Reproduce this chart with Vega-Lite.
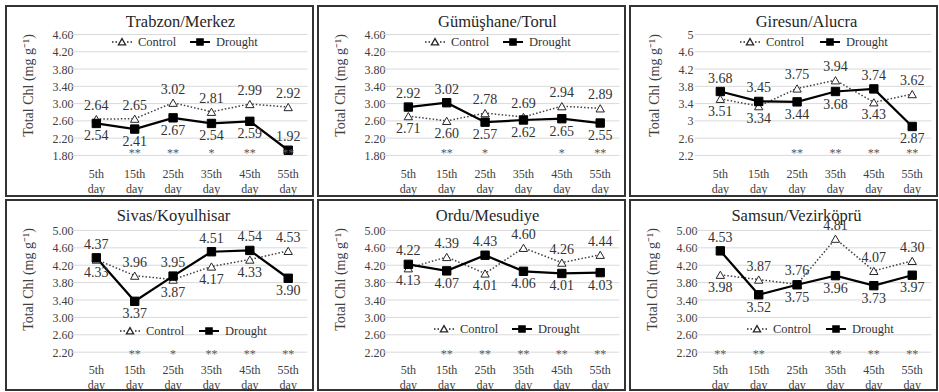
{
"$schema": "https://vega.github.io/schema/vega-lite/v6.json",
"padding": {"left": 5, "top": 5, "right": 0, "bottom": 0},
"background": "white",
"datasets": {
"vals": [
{"site":"Trabzon/Merkez","day":"5th day","series":"Control","value":2.64},
{"site":"Trabzon/Merkez","day":"15th day","series":"Control","value":2.65},
{"site":"Trabzon/Merkez","day":"25th day","series":"Control","value":3.02},
{"site":"Trabzon/Merkez","day":"35th day","series":"Control","value":2.81},
{"site":"Trabzon/Merkez","day":"45th day","series":"Control","value":2.99},
{"site":"Trabzon/Merkez","day":"55th day","series":"Control","value":2.92},
{"site":"Trabzon/Merkez","day":"5th day","series":"Drought","value":2.54},
{"site":"Trabzon/Merkez","day":"15th day","series":"Drought","value":2.41},
{"site":"Trabzon/Merkez","day":"25th day","series":"Drought","value":2.67},
{"site":"Trabzon/Merkez","day":"35th day","series":"Drought","value":2.54},
{"site":"Trabzon/Merkez","day":"45th day","series":"Drought","value":2.59},
{"site":"Trabzon/Merkez","day":"55th day","series":"Drought","value":1.92},
{"site":"Gümüşhane/Torul","day":"5th day","series":"Control","value":2.71},
{"site":"Gümüşhane/Torul","day":"15th day","series":"Control","value":2.60},
{"site":"Gümüşhane/Torul","day":"25th day","series":"Control","value":2.78},
{"site":"Gümüşhane/Torul","day":"35th day","series":"Control","value":2.69},
{"site":"Gümüşhane/Torul","day":"45th day","series":"Control","value":2.94},
{"site":"Gümüşhane/Torul","day":"55th day","series":"Control","value":2.89},
{"site":"Gümüşhane/Torul","day":"5th day","series":"Drought","value":2.92},
{"site":"Gümüşhane/Torul","day":"15th day","series":"Drought","value":3.02},
{"site":"Gümüşhane/Torul","day":"25th day","series":"Drought","value":2.57},
{"site":"Gümüşhane/Torul","day":"35th day","series":"Drought","value":2.62},
{"site":"Gümüşhane/Torul","day":"45th day","series":"Drought","value":2.65},
{"site":"Gümüşhane/Torul","day":"55th day","series":"Drought","value":2.55},
{"site":"Giresun/Alucra","day":"5th day","series":"Control","value":3.51},
{"site":"Giresun/Alucra","day":"15th day","series":"Control","value":3.34},
{"site":"Giresun/Alucra","day":"25th day","series":"Control","value":3.75},
{"site":"Giresun/Alucra","day":"35th day","series":"Control","value":3.94},
{"site":"Giresun/Alucra","day":"45th day","series":"Control","value":3.43},
{"site":"Giresun/Alucra","day":"55th day","series":"Control","value":3.62},
{"site":"Giresun/Alucra","day":"5th day","series":"Drought","value":3.68},
{"site":"Giresun/Alucra","day":"15th day","series":"Drought","value":3.45},
{"site":"Giresun/Alucra","day":"25th day","series":"Drought","value":3.44},
{"site":"Giresun/Alucra","day":"35th day","series":"Drought","value":3.68},
{"site":"Giresun/Alucra","day":"45th day","series":"Drought","value":3.74},
{"site":"Giresun/Alucra","day":"55th day","series":"Drought","value":2.87},
{"site":"Sivas/Koyulhisar","day":"5th day","series":"Control","value":4.33},
{"site":"Sivas/Koyulhisar","day":"15th day","series":"Control","value":3.96},
{"site":"Sivas/Koyulhisar","day":"25th day","series":"Control","value":3.87},
{"site":"Sivas/Koyulhisar","day":"35th day","series":"Control","value":4.17},
{"site":"Sivas/Koyulhisar","day":"45th day","series":"Control","value":4.33},
{"site":"Sivas/Koyulhisar","day":"55th day","series":"Control","value":4.53},
{"site":"Sivas/Koyulhisar","day":"5th day","series":"Drought","value":4.37},
{"site":"Sivas/Koyulhisar","day":"15th day","series":"Drought","value":3.37},
{"site":"Sivas/Koyulhisar","day":"25th day","series":"Drought","value":3.95},
{"site":"Sivas/Koyulhisar","day":"35th day","series":"Drought","value":4.51},
{"site":"Sivas/Koyulhisar","day":"45th day","series":"Drought","value":4.54},
{"site":"Sivas/Koyulhisar","day":"55th day","series":"Drought","value":3.90},
{"site":"Ordu/Mesudiye","day":"5th day","series":"Control","value":4.13},
{"site":"Ordu/Mesudiye","day":"15th day","series":"Control","value":4.39},
{"site":"Ordu/Mesudiye","day":"25th day","series":"Control","value":4.01},
{"site":"Ordu/Mesudiye","day":"35th day","series":"Control","value":4.60},
{"site":"Ordu/Mesudiye","day":"45th day","series":"Control","value":4.26},
{"site":"Ordu/Mesudiye","day":"55th day","series":"Control","value":4.44},
{"site":"Ordu/Mesudiye","day":"5th day","series":"Drought","value":4.22},
{"site":"Ordu/Mesudiye","day":"15th day","series":"Drought","value":4.07},
{"site":"Ordu/Mesudiye","day":"25th day","series":"Drought","value":4.43},
{"site":"Ordu/Mesudiye","day":"35th day","series":"Drought","value":4.06},
{"site":"Ordu/Mesudiye","day":"45th day","series":"Drought","value":4.01},
{"site":"Ordu/Mesudiye","day":"55th day","series":"Drought","value":4.03},
{"site":"Samsun/Vezirköprü","day":"5th day","series":"Control","value":3.98},
{"site":"Samsun/Vezirköprü","day":"15th day","series":"Control","value":3.87},
{"site":"Samsun/Vezirköprü","day":"25th day","series":"Control","value":3.76},
{"site":"Samsun/Vezirköprü","day":"35th day","series":"Control","value":4.81},
{"site":"Samsun/Vezirköprü","day":"45th day","series":"Control","value":4.07},
{"site":"Samsun/Vezirköprü","day":"55th day","series":"Control","value":4.30},
{"site":"Samsun/Vezirköprü","day":"5th day","series":"Drought","value":4.53},
{"site":"Samsun/Vezirköprü","day":"15th day","series":"Drought","value":3.52},
{"site":"Samsun/Vezirköprü","day":"25th day","series":"Drought","value":3.75},
{"site":"Samsun/Vezirköprü","day":"35th day","series":"Drought","value":3.96},
{"site":"Samsun/Vezirköprü","day":"45th day","series":"Drought","value":3.73},
{"site":"Samsun/Vezirköprü","day":"55th day","series":"Drought","value":3.97}
],
"sig": [
{"site":"Trabzon/Merkez","day":"15th day","sig":"**"},
{"site":"Trabzon/Merkez","day":"25th day","sig":"**"},
{"site":"Trabzon/Merkez","day":"35th day","sig":"*"},
{"site":"Trabzon/Merkez","day":"45th day","sig":"**"},
{"site":"Trabzon/Merkez","day":"55th day","sig":"**"},
{"site":"Gümüşhane/Torul","day":"15th day","sig":"**"},
{"site":"Gümüşhane/Torul","day":"25th day","sig":"*"},
{"site":"Gümüşhane/Torul","day":"45th day","sig":"*"},
{"site":"Gümüşhane/Torul","day":"55th day","sig":"**"},
{"site":"Giresun/Alucra","day":"25th day","sig":"**"},
{"site":"Giresun/Alucra","day":"35th day","sig":"**"},
{"site":"Giresun/Alucra","day":"45th day","sig":"**"},
{"site":"Giresun/Alucra","day":"55th day","sig":"**"},
{"site":"Sivas/Koyulhisar","day":"15th day","sig":"**"},
{"site":"Sivas/Koyulhisar","day":"25th day","sig":"*"},
{"site":"Sivas/Koyulhisar","day":"35th day","sig":"**"},
{"site":"Sivas/Koyulhisar","day":"45th day","sig":"**"},
{"site":"Sivas/Koyulhisar","day":"55th day","sig":"**"},
{"site":"Ordu/Mesudiye","day":"15th day","sig":"**"},
{"site":"Ordu/Mesudiye","day":"25th day","sig":"**"},
{"site":"Ordu/Mesudiye","day":"35th day","sig":"**"},
{"site":"Ordu/Mesudiye","day":"45th day","sig":"**"},
{"site":"Ordu/Mesudiye","day":"55th day","sig":"**"},
{"site":"Samsun/Vezirköprü","day":"5th day","sig":"**"},
{"site":"Samsun/Vezirköprü","day":"15th day","sig":"**"},
{"site":"Samsun/Vezirköprü","day":"35th day","sig":"**"},
{"site":"Samsun/Vezirköprü","day":"45th day","sig":"**"},
{"site":"Samsun/Vezirköprü","day":"55th day","sig":"**"}
],
"gridA": [{"value":1.8},{"value":2.2},{"value":2.6},{"value":3.0},{"value":3.4},{"value":3.8},{"value":4.2},{"value":4.6}],
"gridB": [{"value":2.2},{"value":2.6},{"value":3.0},{"value":3.4},{"value":3.8},{"value":4.2},{"value":4.6},{"value":5.0}]
},
"columns": 3,
"spacing": {"row": 4, "column": 5},
"bounds": "flush",
"resolve": {"scale": {"x": "independent", "y": "independent", "fill": "independent", "stroke": "independent"}, "legend": {"fill": "independent", "stroke": "independent"}},
"concat": [
{
"width": 307, "height": 190,
"title": {"text": "Trabzon/Merkez", "dx": 21},
"layer": [
{
"encoding": {
"x": {"field": "day", "type": "nominal", "title": null, "scale": {"domain": ["5th day","15th day","25th day","35th day","45th day","55th day"], "paddingInner": 0, "paddingOuter": 1.12, "align": 0.927}, "axis": {"offset": -28}},
"y": {"field": "value", "type": "quantitative", "title": "Total Chl (mg g⁻¹)", "scale": {"domain": [0.86, 5.26], "nice": false, "zero": false}, "axis": {"values": [1.8,2.2,2.6,3.0,3.4,3.8,4.2,4.6], "format": ".2f", "offset": -67, "titleX": -45}}
},
"layer": [
{"data": {"name": "gridA"}, "mark": {"type": "rule", "color": "#d9d9d9", "strokeWidth": 1}, "encoding": {"x": {"datum": "5th day", "type": "nominal", "bandPosition": -0.17}, "x2": {"datum": "55th day", "bandPosition": 1}}},
{"data": {"name": "vals"}, "transform": [{"filter": "datum.site === 'Trabzon/Merkez' && datum.series === 'Control'"}], "mark": {"type": "line", "stroke": "#404040", "strokeWidth": 1.5, "strokeDash": [1.5, 2]}},
{"data": {"name": "vals"}, "transform": [{"filter": "datum.site === 'Trabzon/Merkez' && datum.series === 'Drought'"}], "mark": {"type": "line", "stroke": "#000000", "strokeWidth": 2.25}},
{"data": {"name": "vals"}, "transform": [{"filter": "datum.site === 'Trabzon/Merkez' && datum.series === 'Control'"}], "mark": {"type": "point", "shape": "triangle-up", "filled": true, "size": 70, "stroke": "#262626", "strokeWidth": 1, "opacity": 1},
 "encoding": {"fill": {"field": "series", "type": "nominal", "scale": {"domain": ["Control"], "range": ["#ffffff"]},
   "legend": {"orient": "none", "legendX": 105, "legendY": 25, "title": null, "symbolType": "M-1,0H-0.85M-0.65,0H-0.5M0.5,0H0.65M0.85,0H1M0,-0.34L0.36,0.28L-0.36,0.28Z", "symbolStrokeColor": "#262626", "symbolStrokeWidth": 1.3}}}},
{"data": {"name": "vals"}, "transform": [{"filter": "datum.site === 'Trabzon/Merkez' && datum.series === 'Drought'"}], "mark": {"type": "point", "shape": "square", "filled": true, "fill": "#000000", "size": 70, "strokeWidth": 1, "opacity": 1},
 "encoding": {"stroke": {"field": "series", "type": "nominal", "scale": {"domain": ["Drought"], "range": ["#000000"]},
   "legend": {"orient": "none", "legendX": 183, "legendY": 25, "title": null, "symbolType": "M-1,0H1M-0.28,-0.28H0.28V0.28H-0.28Z", "symbolFillColor": "#000000", "symbolStrokeWidth": 2}}}},
{"data": {"name": "vals"}, "transform": [{"filter": "datum.site === 'Trabzon/Merkez'"}, {"joinaggregate": [{"op": "max", "field": "value", "as": "mx"}], "groupby": ["day"]}, {"filter": "datum.value === datum.mx || datum.value < 2"}], "mark": {"type": "text", "dy": -13}, "encoding": {"text": {"field": "value", "format": ".2f"}}},
{"data": {"name": "vals"}, "transform": [{"filter": "datum.site === 'Trabzon/Merkez'"}, {"joinaggregate": [{"op": "max", "field": "value", "as": "mx"}], "groupby": ["day"]}, {"filter": "datum.value < datum.mx && datum.value >= 2"}], "mark": {"type": "text", "dy": 13}, "encoding": {"text": {"field": "value", "format": ".2f"}}}
]
},
{"data": {"name": "sig"}, "transform": [{"filter": "datum.site === 'Trabzon/Merkez'"}], "mark": {"type": "text", "dy": -2, "color": "#595959", "fontSize": 12},
 "encoding": {"x": {"field": "day", "type": "nominal", "title": null, "scale": {"domain": ["5th day","15th day","25th day","35th day","45th day","55th day"], "paddingInner": 0, "paddingOuter": 1.12, "align": 0.927}, "axis": {"offset": -28}},
  "y": {"datum": 1.8, "type": "quantitative", "title": "Total Chl (mg g⁻¹)", "scale": {"domain": [0.86, 5.26], "nice": false, "zero": false}, "axis": {"values": [1.8,2.2,2.6,3.0,3.4,3.8,4.2,4.6], "format": ".2f", "offset": -67, "titleX": -45}},
  "text": {"field": "sig"}}}
]
},
{
"width": 307, "height": 190,
"title": {"text": "Gümüşhane/Torul", "dx": 26},
"layer": [
{
"encoding": {
"x": {"field": "day", "type": "nominal", "title": null, "scale": {"domain": ["5th day","15th day","25th day","35th day","45th day","55th day"], "paddingInner": 0, "paddingOuter": 1.12, "align": 0.927}, "axis": {"offset": -28}},
"y": {"field": "value", "type": "quantitative", "title": "Total Chl (mg g⁻¹)", "scale": {"domain": [0.86, 5.26], "nice": false, "zero": false}, "axis": {"values": [1.8,2.2,2.6,3.0,3.4,3.8,4.2,4.6], "format": ".2f", "offset": -67, "titleX": -45}}
},
"layer": [
{"data": {"name": "gridA"}, "mark": {"type": "rule", "color": "#d9d9d9", "strokeWidth": 1}, "encoding": {"x": {"datum": "5th day", "type": "nominal", "bandPosition": -0.17}, "x2": {"datum": "55th day", "bandPosition": 1}}},
{"data": {"name": "vals"}, "transform": [{"filter": "datum.site === 'Gümüşhane/Torul' && datum.series === 'Control'"}], "mark": {"type": "line", "stroke": "#404040", "strokeWidth": 1.5, "strokeDash": [1.5, 2]}},
{"data": {"name": "vals"}, "transform": [{"filter": "datum.site === 'Gümüşhane/Torul' && datum.series === 'Drought'"}], "mark": {"type": "line", "stroke": "#000000", "strokeWidth": 2.25}},
{"data": {"name": "vals"}, "transform": [{"filter": "datum.site === 'Gümüşhane/Torul' && datum.series === 'Control'"}], "mark": {"type": "point", "shape": "triangle-up", "filled": true, "size": 70, "stroke": "#262626", "strokeWidth": 1, "opacity": 1},
 "encoding": {"fill": {"field": "series", "type": "nominal", "scale": {"domain": ["Control"], "range": ["#ffffff"]},
   "legend": {"orient": "none", "legendX": 106, "legendY": 25, "title": null, "symbolType": "M-1,0H-0.85M-0.65,0H-0.5M0.5,0H0.65M0.85,0H1M0,-0.34L0.36,0.28L-0.36,0.28Z", "symbolStrokeColor": "#262626", "symbolStrokeWidth": 1.3}}}},
{"data": {"name": "vals"}, "transform": [{"filter": "datum.site === 'Gümüşhane/Torul' && datum.series === 'Drought'"}], "mark": {"type": "point", "shape": "square", "filled": true, "fill": "#000000", "size": 70, "strokeWidth": 1, "opacity": 1},
 "encoding": {"stroke": {"field": "series", "type": "nominal", "scale": {"domain": ["Drought"], "range": ["#000000"]},
   "legend": {"orient": "none", "legendX": 184, "legendY": 25, "title": null, "symbolType": "M-1,0H1M-0.28,-0.28H0.28V0.28H-0.28Z", "symbolFillColor": "#000000", "symbolStrokeWidth": 2}}}},
{"data": {"name": "vals"}, "transform": [{"filter": "datum.site === 'Gümüşhane/Torul'"}, {"joinaggregate": [{"op": "max", "field": "value", "as": "mx"}], "groupby": ["day"]}, {"filter": "datum.value === datum.mx"}], "mark": {"type": "text", "dy": -13}, "encoding": {"text": {"field": "value", "format": ".2f"}}},
{"data": {"name": "vals"}, "transform": [{"filter": "datum.site === 'Gümüşhane/Torul'"}, {"joinaggregate": [{"op": "max", "field": "value", "as": "mx"}], "groupby": ["day"]}, {"filter": "datum.value < datum.mx"}], "mark": {"type": "text", "dy": 13}, "encoding": {"text": {"field": "value", "format": ".2f"}}}
]
},
{"data": {"name": "sig"}, "transform": [{"filter": "datum.site === 'Gümüşhane/Torul'"}], "mark": {"type": "text", "dy": -2, "color": "#595959", "fontSize": 12},
 "encoding": {"x": {"field": "day", "type": "nominal", "title": null, "scale": {"domain": ["5th day","15th day","25th day","35th day","45th day","55th day"], "paddingInner": 0, "paddingOuter": 1.12, "align": 0.927}, "axis": {"offset": -28}},
  "y": {"datum": 1.8, "type": "quantitative", "title": "Total Chl (mg g⁻¹)", "scale": {"domain": [0.86, 5.26], "nice": false, "zero": false}, "axis": {"values": [1.8,2.2,2.6,3.0,3.4,3.8,4.2,4.6], "format": ".2f", "offset": -67, "titleX": -45}},
  "text": {"field": "sig"}}}
]
},
{
"width": 307, "height": 190,
"title": {"text": "Giresun/Alucra", "dx": 23},
"layer": [
{
"encoding": {
"x": {"field": "day", "type": "nominal", "title": null, "scale": {"domain": ["5th day","15th day","25th day","35th day","45th day","55th day"], "paddingInner": 0, "paddingOuter": 1.12, "align": 0.927}, "axis": {"offset": -28}},
"y": {"field": "value", "type": "quantitative", "title": "Total Chl (mg g⁻¹)", "scale": {"domain": [1.26, 5.66], "nice": false, "zero": false}, "axis": {"values": [2.2,2.6,3.0,3.4,3.8,4.2,4.6,5.0], "format": "~g", "offset": -63, "titleX": -39}}
},
"layer": [
{"data": {"name": "gridB"}, "mark": {"type": "rule", "color": "#d9d9d9", "strokeWidth": 1}, "encoding": {"x": {"datum": "5th day", "type": "nominal", "bandPosition": -0.17}, "x2": {"datum": "55th day", "bandPosition": 1}}},
{"data": {"name": "vals"}, "transform": [{"filter": "datum.site === 'Giresun/Alucra' && datum.series === 'Control'"}], "mark": {"type": "line", "stroke": "#404040", "strokeWidth": 1.5, "strokeDash": [1.5, 2]}},
{"data": {"name": "vals"}, "transform": [{"filter": "datum.site === 'Giresun/Alucra' && datum.series === 'Drought'"}], "mark": {"type": "line", "stroke": "#000000", "strokeWidth": 2.25}},
{"data": {"name": "vals"}, "transform": [{"filter": "datum.site === 'Giresun/Alucra' && datum.series === 'Control'"}], "mark": {"type": "point", "shape": "triangle-up", "filled": true, "size": 70, "stroke": "#262626", "strokeWidth": 1, "opacity": 1},
 "encoding": {"fill": {"field": "series", "type": "nominal", "scale": {"domain": ["Control"], "range": ["#ffffff"]},
   "legend": {"orient": "none", "legendX": 109, "legendY": 25, "title": null, "symbolType": "M-1,0H-0.85M-0.65,0H-0.5M0.5,0H0.65M0.85,0H1M0,-0.34L0.36,0.28L-0.36,0.28Z", "symbolStrokeColor": "#262626", "symbolStrokeWidth": 1.3}}}},
{"data": {"name": "vals"}, "transform": [{"filter": "datum.site === 'Giresun/Alucra' && datum.series === 'Drought'"}], "mark": {"type": "point", "shape": "square", "filled": true, "fill": "#000000", "size": 70, "strokeWidth": 1, "opacity": 1},
 "encoding": {"stroke": {"field": "series", "type": "nominal", "scale": {"domain": ["Drought"], "range": ["#000000"]},
   "legend": {"orient": "none", "legendX": 189, "legendY": 25, "title": null, "symbolType": "M-1,0H1M-0.28,-0.28H0.28V0.28H-0.28Z", "symbolFillColor": "#000000", "symbolStrokeWidth": 2}}}},
{"data": {"name": "vals"}, "transform": [{"filter": "datum.site === 'Giresun/Alucra'"}, {"joinaggregate": [{"op": "max", "field": "value", "as": "mx"}], "groupby": ["day"]}, {"filter": "datum.value === datum.mx"}], "mark": {"type": "text", "dy": -13}, "encoding": {"text": {"field": "value", "format": ".2f"}}},
{"data": {"name": "vals"}, "transform": [{"filter": "datum.site === 'Giresun/Alucra'"}, {"joinaggregate": [{"op": "max", "field": "value", "as": "mx"}], "groupby": ["day"]}, {"filter": "datum.value < datum.mx"}], "mark": {"type": "text", "dy": 13}, "encoding": {"text": {"field": "value", "format": ".2f"}}}
]
},
{"data": {"name": "sig"}, "transform": [{"filter": "datum.site === 'Giresun/Alucra'"}], "mark": {"type": "text", "dy": -2, "color": "#595959", "fontSize": 12},
 "encoding": {"x": {"field": "day", "type": "nominal", "title": null, "scale": {"domain": ["5th day","15th day","25th day","35th day","45th day","55th day"], "paddingInner": 0, "paddingOuter": 1.12, "align": 0.927}, "axis": {"offset": -28}},
  "y": {"datum": 2.2, "type": "quantitative", "title": "Total Chl (mg g⁻¹)", "scale": {"domain": [1.26, 5.66], "nice": false, "zero": false}, "axis": {"values": [2.2,2.6,3.0,3.4,3.8,4.2,4.6,5.0], "format": "~g", "offset": -63, "titleX": -39}},
  "text": {"field": "sig"}}}
]
},
{
"width": 307, "height": 190,
"title": {"text": "Sivas/Koyulhisar", "dx": 14},
"layer": [
{
"encoding": {
"x": {"field": "day", "type": "nominal", "title": null, "scale": {"domain": ["5th day","15th day","25th day","35th day","45th day","55th day"], "paddingInner": 0, "paddingOuter": 1.12, "align": 0.927}, "axis": {"offset": -26}},
"y": {"field": "value", "type": "quantitative", "title": "Total Chl (mg g⁻¹)", "scale": {"domain": [1.33, 5.70], "nice": false, "zero": false}, "axis": {"values": [2.2,2.6,3.0,3.4,3.8,4.2,4.6,5.0], "format": ".2f", "offset": -67, "titleX": -45}}
},
"layer": [
{"data": {"name": "gridB"}, "mark": {"type": "rule", "color": "#d9d9d9", "strokeWidth": 1}, "encoding": {"x": {"datum": "5th day", "type": "nominal", "bandPosition": -0.17}, "x2": {"datum": "55th day", "bandPosition": 1}}},
{"data": {"name": "vals"}, "transform": [{"filter": "datum.site === 'Sivas/Koyulhisar' && datum.series === 'Control'"}], "mark": {"type": "line", "stroke": "#404040", "strokeWidth": 1.5, "strokeDash": [1.5, 2]}},
{"data": {"name": "vals"}, "transform": [{"filter": "datum.site === 'Sivas/Koyulhisar' && datum.series === 'Drought'"}], "mark": {"type": "line", "stroke": "#000000", "strokeWidth": 2.25}},
{"data": {"name": "vals"}, "transform": [{"filter": "datum.site === 'Sivas/Koyulhisar' && datum.series === 'Control'"}], "mark": {"type": "point", "shape": "triangle-up", "filled": true, "size": 70, "stroke": "#262626", "strokeWidth": 1, "opacity": 1},
 "encoding": {"fill": {"field": "series", "type": "nominal", "scale": {"domain": ["Control"], "range": ["#ffffff"]},
   "legend": {"orient": "none", "legendX": 113, "legendY": 120, "title": null, "symbolType": "M-1,0H-0.85M-0.65,0H-0.5M0.5,0H0.65M0.85,0H1M0,-0.34L0.36,0.28L-0.36,0.28Z", "symbolStrokeColor": "#262626", "symbolStrokeWidth": 1.3}}}},
{"data": {"name": "vals"}, "transform": [{"filter": "datum.site === 'Sivas/Koyulhisar' && datum.series === 'Drought'"}], "mark": {"type": "point", "shape": "square", "filled": true, "fill": "#000000", "size": 70, "strokeWidth": 1, "opacity": 1},
 "encoding": {"stroke": {"field": "series", "type": "nominal", "scale": {"domain": ["Drought"], "range": ["#000000"]},
   "legend": {"orient": "none", "legendX": 192, "legendY": 120, "title": null, "symbolType": "M-1,0H1M-0.28,-0.28H0.28V0.28H-0.28Z", "symbolFillColor": "#000000", "symbolStrokeWidth": 2}}}},
{"data": {"name": "vals"}, "transform": [{"filter": "datum.site === 'Sivas/Koyulhisar'"}, {"joinaggregate": [{"op": "max", "field": "value", "as": "mx"}], "groupby": ["day"]}, {"filter": "datum.value === datum.mx"}], "mark": {"type": "text", "dy": -13}, "encoding": {"text": {"field": "value", "format": ".2f"}}},
{"data": {"name": "vals"}, "transform": [{"filter": "datum.site === 'Sivas/Koyulhisar'"}, {"joinaggregate": [{"op": "max", "field": "value", "as": "mx"}], "groupby": ["day"]}, {"filter": "datum.value < datum.mx"}], "mark": {"type": "text", "dy": 13}, "encoding": {"text": {"field": "value", "format": ".2f"}}}
]
},
{"data": {"name": "sig"}, "transform": [{"filter": "datum.site === 'Sivas/Koyulhisar'"}], "mark": {"type": "text", "dy": 2, "color": "#595959", "fontSize": 12},
 "encoding": {"x": {"field": "day", "type": "nominal", "title": null, "scale": {"domain": ["5th day","15th day","25th day","35th day","45th day","55th day"], "paddingInner": 0, "paddingOuter": 1.12, "align": 0.927}, "axis": {"offset": -26}},
  "y": {"datum": 2.2, "type": "quantitative", "title": "Total Chl (mg g⁻¹)", "scale": {"domain": [1.33, 5.70], "nice": false, "zero": false}, "axis": {"values": [2.2,2.6,3.0,3.4,3.8,4.2,4.6,5.0], "format": ".2f", "offset": -67, "titleX": -45}},
  "text": {"field": "sig"}}}
]
},
{
"width": 307, "height": 190,
"title": {"text": "Ordu/Mesudiye", "dx": 16},
"layer": [
{
"encoding": {
"x": {"field": "day", "type": "nominal", "title": null, "scale": {"domain": ["5th day","15th day","25th day","35th day","45th day","55th day"], "paddingInner": 0, "paddingOuter": 1.12, "align": 0.927}, "axis": {"offset": -26}},
"y": {"field": "value", "type": "quantitative", "title": "Total Chl (mg g⁻¹)", "scale": {"domain": [1.33, 5.70], "nice": false, "zero": false}, "axis": {"values": [2.2,2.6,3.0,3.4,3.8,4.2,4.6,5.0], "format": ".2f", "offset": -67, "titleX": -45}}
},
"layer": [
{"data": {"name": "gridB"}, "mark": {"type": "rule", "color": "#d9d9d9", "strokeWidth": 1}, "encoding": {"x": {"datum": "5th day", "type": "nominal", "bandPosition": -0.17}, "x2": {"datum": "55th day", "bandPosition": 1}}},
{"data": {"name": "vals"}, "transform": [{"filter": "datum.site === 'Ordu/Mesudiye' && datum.series === 'Control'"}], "mark": {"type": "line", "stroke": "#404040", "strokeWidth": 1.5, "strokeDash": [1.5, 2]}},
{"data": {"name": "vals"}, "transform": [{"filter": "datum.site === 'Ordu/Mesudiye' && datum.series === 'Drought'"}], "mark": {"type": "line", "stroke": "#000000", "strokeWidth": 2.25}},
{"data": {"name": "vals"}, "transform": [{"filter": "datum.site === 'Ordu/Mesudiye' && datum.series === 'Control'"}], "mark": {"type": "point", "shape": "triangle-up", "filled": true, "size": 70, "stroke": "#262626", "strokeWidth": 1, "opacity": 1},
 "encoding": {"fill": {"field": "series", "type": "nominal", "scale": {"domain": ["Control"], "range": ["#ffffff"]},
   "legend": {"orient": "none", "legendX": 115, "legendY": 118, "title": null, "symbolType": "M-1,0H-0.85M-0.65,0H-0.5M0.5,0H0.65M0.85,0H1M0,-0.34L0.36,0.28L-0.36,0.28Z", "symbolStrokeColor": "#262626", "symbolStrokeWidth": 1.3}}}},
{"data": {"name": "vals"}, "transform": [{"filter": "datum.site === 'Ordu/Mesudiye' && datum.series === 'Drought'"}], "mark": {"type": "point", "shape": "square", "filled": true, "fill": "#000000", "size": 70, "strokeWidth": 1, "opacity": 1},
 "encoding": {"stroke": {"field": "series", "type": "nominal", "scale": {"domain": ["Drought"], "range": ["#000000"]},
   "legend": {"orient": "none", "legendX": 193, "legendY": 118, "title": null, "symbolType": "M-1,0H1M-0.28,-0.28H0.28V0.28H-0.28Z", "symbolFillColor": "#000000", "symbolStrokeWidth": 2}}}},
{"data": {"name": "vals"}, "transform": [{"filter": "datum.site === 'Ordu/Mesudiye'"}, {"joinaggregate": [{"op": "max", "field": "value", "as": "mx"}], "groupby": ["day"]}, {"filter": "datum.value === datum.mx"}], "mark": {"type": "text", "dy": -13}, "encoding": {"text": {"field": "value", "format": ".2f"}}},
{"data": {"name": "vals"}, "transform": [{"filter": "datum.site === 'Ordu/Mesudiye'"}, {"joinaggregate": [{"op": "max", "field": "value", "as": "mx"}], "groupby": ["day"]}, {"filter": "datum.value < datum.mx"}], "mark": {"type": "text", "dy": 13}, "encoding": {"text": {"field": "value", "format": ".2f"}}}
]
},
{"data": {"name": "sig"}, "transform": [{"filter": "datum.site === 'Ordu/Mesudiye'"}], "mark": {"type": "text", "dy": 2, "color": "#595959", "fontSize": 12},
 "encoding": {"x": {"field": "day", "type": "nominal", "title": null, "scale": {"domain": ["5th day","15th day","25th day","35th day","45th day","55th day"], "paddingInner": 0, "paddingOuter": 1.12, "align": 0.927}, "axis": {"offset": -26}},
  "y": {"datum": 2.2, "type": "quantitative", "title": "Total Chl (mg g⁻¹)", "scale": {"domain": [1.33, 5.70], "nice": false, "zero": false}, "axis": {"values": [2.2,2.6,3.0,3.4,3.8,4.2,4.6,5.0], "format": ".2f", "offset": -67, "titleX": -45}},
  "text": {"field": "sig"}}}
]
},
{
"width": 307, "height": 190,
"title": {"text": "Samsun/Vezirköprü", "dx": 13},
"layer": [
{
"encoding": {
"x": {"field": "day", "type": "nominal", "title": null, "scale": {"domain": ["5th day","15th day","25th day","35th day","45th day","55th day"], "paddingInner": 0, "paddingOuter": 1.12, "align": 0.927}, "axis": {"offset": -26}},
"y": {"field": "value", "type": "quantitative", "title": "Total Chl (mg g⁻¹)", "scale": {"domain": [1.33, 5.70], "nice": false, "zero": false}, "axis": {"values": [2.2,2.6,3.0,3.4,3.8,4.2,4.6,5.0], "format": ".2f", "offset": -67, "titleX": -45}}
},
"layer": [
{"data": {"name": "gridB"}, "mark": {"type": "rule", "color": "#d9d9d9", "strokeWidth": 1}, "encoding": {"x": {"datum": "5th day", "type": "nominal", "bandPosition": -0.17}, "x2": {"datum": "55th day", "bandPosition": 1}}},
{"data": {"name": "vals"}, "transform": [{"filter": "datum.site === 'Samsun/Vezirköprü' && datum.series === 'Control'"}], "mark": {"type": "line", "stroke": "#404040", "strokeWidth": 1.5, "strokeDash": [1.5, 2]}},
{"data": {"name": "vals"}, "transform": [{"filter": "datum.site === 'Samsun/Vezirköprü' && datum.series === 'Drought'"}], "mark": {"type": "line", "stroke": "#000000", "strokeWidth": 2.25}},
{"data": {"name": "vals"}, "transform": [{"filter": "datum.site === 'Samsun/Vezirköprü' && datum.series === 'Control'"}], "mark": {"type": "point", "shape": "triangle-up", "filled": true, "size": 70, "stroke": "#262626", "strokeWidth": 1, "opacity": 1},
 "encoding": {"fill": {"field": "series", "type": "nominal", "scale": {"domain": ["Control"], "range": ["#ffffff"]},
   "legend": {"orient": "none", "legendX": 116, "legendY": 118, "title": null, "symbolType": "M-1,0H-0.85M-0.65,0H-0.5M0.5,0H0.65M0.85,0H1M0,-0.34L0.36,0.28L-0.36,0.28Z", "symbolStrokeColor": "#262626", "symbolStrokeWidth": 1.3}}}},
{"data": {"name": "vals"}, "transform": [{"filter": "datum.site === 'Samsun/Vezirköprü' && datum.series === 'Drought'"}], "mark": {"type": "point", "shape": "square", "filled": true, "fill": "#000000", "size": 70, "strokeWidth": 1, "opacity": 1},
 "encoding": {"stroke": {"field": "series", "type": "nominal", "scale": {"domain": ["Drought"], "range": ["#000000"]},
   "legend": {"orient": "none", "legendX": 195, "legendY": 118, "title": null, "symbolType": "M-1,0H1M-0.28,-0.28H0.28V0.28H-0.28Z", "symbolFillColor": "#000000", "symbolStrokeWidth": 2}}}},
{"data": {"name": "vals"}, "transform": [{"filter": "datum.site === 'Samsun/Vezirköprü'"}, {"joinaggregate": [{"op": "max", "field": "value", "as": "mx"}], "groupby": ["day"]}, {"filter": "datum.value === datum.mx"}], "mark": {"type": "text", "dy": -13}, "encoding": {"text": {"field": "value", "format": ".2f"}}},
{"data": {"name": "vals"}, "transform": [{"filter": "datum.site === 'Samsun/Vezirköprü'"}, {"joinaggregate": [{"op": "max", "field": "value", "as": "mx"}], "groupby": ["day"]}, {"filter": "datum.value < datum.mx"}], "mark": {"type": "text", "dy": 13}, "encoding": {"text": {"field": "value", "format": ".2f"}}}
]
},
{"data": {"name": "sig"}, "transform": [{"filter": "datum.site === 'Samsun/Vezirköprü'"}], "mark": {"type": "text", "dy": 2, "color": "#595959", "fontSize": 12},
 "encoding": {"x": {"field": "day", "type": "nominal", "title": null, "scale": {"domain": ["5th day","15th day","25th day","35th day","45th day","55th day"], "paddingInner": 0, "paddingOuter": 1.12, "align": 0.927}, "axis": {"offset": -26}},
  "y": {"datum": 2.2, "type": "quantitative", "title": "Total Chl (mg g⁻¹)", "scale": {"domain": [1.33, 5.70], "nice": false, "zero": false}, "axis": {"values": [2.2,2.6,3.0,3.4,3.8,4.2,4.6,5.0], "format": ".2f", "offset": -67, "titleX": -45}},
  "text": {"field": "sig"}}}
]
}
],
"config": {
"font": "Liberation Serif",
"view": {"stroke": "#333333", "strokeWidth": 2},
"title": {"fontSize": 16.5, "fontWeight": "normal", "color": "#262626", "offset": -24, "baseline": "alphabetic", "frame": "group", "anchor": "middle", "font": "Liberation Serif"},
"axis": {"grid": false, "domain": false, "ticks": false, "labelOverlap": false, "labelFont": "Liberation Serif", "titleFont": "Liberation Serif", "labelColor": "#404040", "labelFontSize": 12, "titleFontWeight": "normal", "titleColor": "#404040", "titleFontSize": 14},
"axisX": {"labelAngle": 0, "labelPadding": 0, "labelExpr": "split(datum.label, ' ')", "labelLineHeight": 15},
"axisY": {"labelPadding": 0, "titleY": 79, "titleBaseline": "middle", "titleAlign": "center"},
"legend": {"padding": 0, "labelFont": "Liberation Serif", "labelFontSize": 12.5, "labelColor": "#333333", "labelOffset": 5, "columnPadding": 12, "symbolSize": 400},
"text": {"font": "Liberation Serif", "fontSize": 14, "color": "#333333", "baseline": "middle"}
}
}
